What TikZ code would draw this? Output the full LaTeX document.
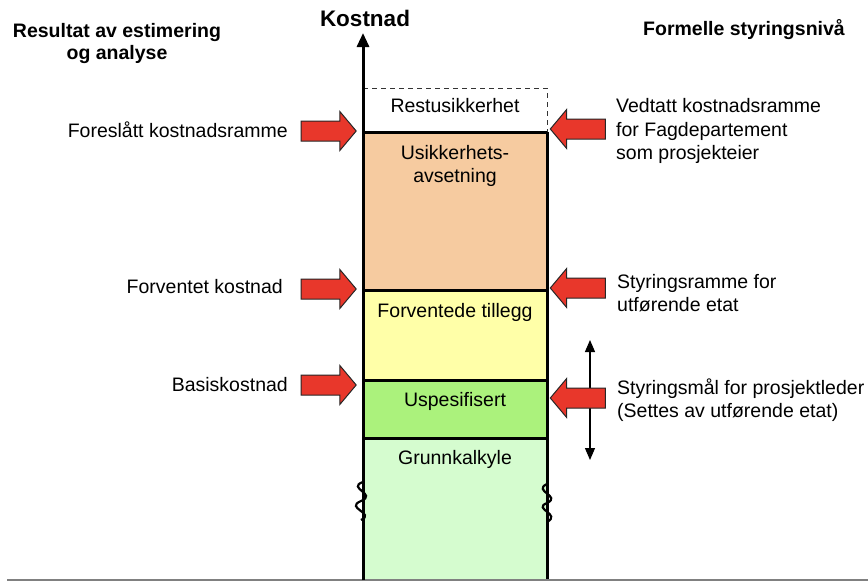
\documentclass[tikz,border=0pt]{standalone}
\usepackage{fontspec}
\setmainfont{Liberation Sans}
\usetikzlibrary{shapes.arrows,arrows.meta}
\definecolor{usik}{HTML}{F6CBA0}
\definecolor{tillegg}{HTML}{FFFFA8}
\definecolor{uspes}{HTML}{ABF27C}
\definecolor{grunn}{HTML}{D5FCCF}
\definecolor{pilrod}{HTML}{E8372B}

\tikzset{
  pil/.style={single arrow,draw=black!85,fill=pilrod,line width=1pt,minimum height=55pt,
    inner ysep=9.5pt,inner xsep=0pt,single arrow head extend=9.5pt,single arrow tip angle=100},
  lag/.style={font=\fontsize{19.5}{23.5}\selectfont,align=center,inner sep=0pt}
}

\begin{document}
\begin{tikzpicture}[x=1pt,y=-1pt,font=\fontsize{19.5}{23.5}\selectfont]
  \useasboundingbox (0,0) rectangle (868,581);
  % layers
  \foreach \ya/\yb/\c in {132/290/usik,290/380/tillegg,380/438/uspes,438/580/grunn}{\fill[\c] (363,\ya) rectangle (547,\yb);}
  \foreach \y in {132,290,380,438}{\draw[line width=3pt] (363,\y)--(547,\y);}
  \draw[line width=3pt] (547,132)--(547,580);
  \draw[black!80,line width=1pt,dash pattern=on 5pt off 4pt] (363,88)--(547,88)--(547,132);
  \draw[gray,line width=1.5pt] (7,580)--(868,580);
  % breaks
  \draw[line width=2.2pt] (363,482) .. controls (346,488) and (378,494) .. (361,501) .. controls (344,508) and (376,513) .. (361,520);
  \draw[line width=2.2pt] (547,484) .. controls (532,491) and (562,496) .. (547,503) .. controls (532,509) and (562,514) .. (547,522);
  % axis
  \node[font=\bfseries\fontsize{22.5}{26}\selectfont] (kost) at (365,18) {Kostnad};
  \draw[line width=3pt,-{Triangle[length=14pt,width=12pt]}] (363,580)--(363,33);
  % layer texts
  \node[lag] (rest) at (455,106) {Restusikkerhet};
  \node[lag,anchor=north] (usikker) at (455,145) {Usikkerhets-\\avsetning};
  \node[lag] (forvt) at (455,312) {Forventede tillegg};
  \node[lag] (uspesif) at (455,401) {Uspesifisert};
  \node[lag] (grunnk) at (455,459) {Grunnkalkyle};
  % headers
  \node[font=\bfseries\fontsize{19.5}{22}\selectfont,align=center,anchor=north] (hodeV) at (117,20) {Resultat av estimering\\og analyse};
  \node[font=\bfseries\fontsize{19.5}{22}\selectfont] (hodeH) at (744,30) {Formelle styringsnivå};
  % span
  \coordinate (spanTopp) at (590,340);
  \coordinate (spanBunn) at (590,460);
  \draw[line width=1.2pt,{Triangle[length=12pt,width=10pt]}-{Triangle[length=12pt,width=10pt]}] (spanTopp)--(spanBunn);
  % arrows left
  \foreach \n/\y in {1/131,2/289,3/385}{\node[pil] (pilV\n) at (324.5,\y) {};}
  % arrows right
  \foreach \n/\y in {1/129,2/288,3/398}{\node[pil,shape border rotate=180] (pilH\n) at (582,\y) {};}
  % labels left
  \node[anchor=east,inner sep=0pt] (fkr) at (288,130) {Foreslått kostnadsramme};
  \node[anchor=east,inner sep=0pt] (fk) at (283,287) {Forventet kostnad};
  \node[anchor=east,inner sep=0pt] (bk) at (288,385) {Basiskostnad};
  % labels right
  \node[anchor=west,align=left,inner sep=0pt] (vkr) at (616,131) {Vedtatt kostnadsramme\\for Fagdepartement\\som prosjekteier};
  \node[anchor=west,align=left,inner sep=0pt] (sr) at (617,293) {Styringsramme for\\utførende etat};
  \node[anchor=west,align=left,inner sep=0pt] (sm) at (617,400) {Styringsmål for prosjektleder\\(Settes av utførende etat)};
\end{tikzpicture}
\end{document}
